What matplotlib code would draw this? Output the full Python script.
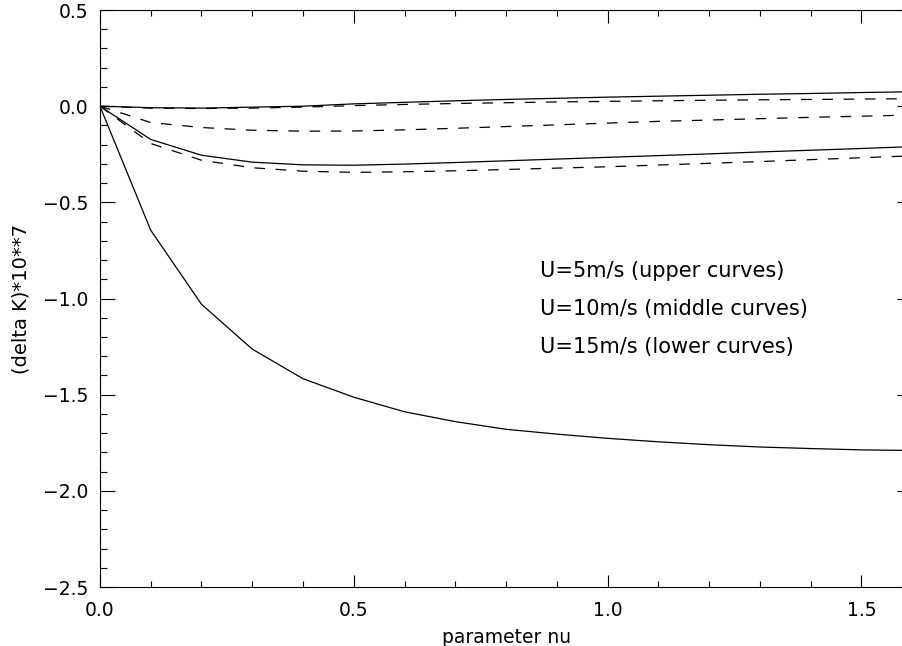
import matplotlib
matplotlib.use("Agg")
import matplotlib.pyplot as plt
from matplotlib.ticker import MultipleLocator

plt.rcParams['font.family'] = 'DejaVu Sans'

# parameter nu
nu = [0.0, 0.1, 0.2, 0.3, 0.4, 0.5, 0.6, 0.7, 0.8, 0.9,
      1.0, 1.1, 1.2, 1.3, 1.4, 1.5, 1.6]

# (delta K)*10**7
upper_solid = [0.0, -0.008, -0.010, -0.005, 0.000, 0.012, 0.020, 0.028, 0.035,
               0.041, 0.047, 0.052, 0.057, 0.062, 0.066, 0.071, 0.075]
upper_dashed = [0.0, -0.010, -0.012, -0.010, -0.005, 0.003, 0.009, 0.014, 0.018,
                0.022, 0.025, 0.028, 0.031, 0.033, 0.035, 0.037, 0.039]
middle_dashed = [0.0, -0.085, -0.111, -0.125, -0.130, -0.129, -0.123, -0.115, -0.106,
                 -0.097, -0.088, -0.079, -0.072, -0.065, -0.058, -0.052, -0.046]
middle_solid = [0.0, -0.173, -0.255, -0.291, -0.305, -0.307, -0.301, -0.293, -0.284,
                -0.275, -0.266, -0.257, -0.248, -0.238, -0.229, -0.220, -0.210]
lower_dashed = [0.0, -0.194, -0.281, -0.320, -0.338, -0.344, -0.341, -0.336, -0.329,
                -0.322, -0.315, -0.306, -0.297, -0.288, -0.278, -0.268, -0.258]
lower_solid = [0.0, -0.645, -1.030, -1.263, -1.417, -1.513, -1.589, -1.640, -1.680,
               -1.705, -1.727, -1.745, -1.760, -1.772, -1.780, -1.787, -1.790]

legend_lines = ['U=5m/s (upper curves)',
                'U=10m/s (middle curves)',
                'U=15m/s (lower curves)']
legend_y = [-0.855, -1.053, -1.253]

fig = plt.figure(figsize=(9.03, 6.46), dpi=100)
# axes runs a little past the right edge of the picture, like the original
ax = fig.add_axes([0.1107, 0.0913, 0.8995, 0.8932])

lw = 0.9
dash = (0, (8.5, 8.5))
ax.plot(nu, upper_solid, color='black', lw=lw)
ax.plot(nu, upper_dashed, color='black', lw=lw, linestyle=dash)
ax.plot(nu, middle_dashed, color='black', lw=lw, linestyle=dash)
ax.plot(nu, middle_solid, color='black', lw=lw)
ax.plot(nu, lower_dashed, color='black', lw=lw, linestyle=dash)
ax.plot(nu, lower_solid, color='black', lw=lw)

ax.set_xlim(0, 1.6)
ax.set_ylim(-2.5, 0.5)
ax.xaxis.set_major_locator(MultipleLocator(0.5))
ax.xaxis.set_minor_locator(MultipleLocator(0.1))
ax.yaxis.set_major_locator(MultipleLocator(0.5))
ax.yaxis.set_minor_locator(MultipleLocator(0.1))
ax.xaxis.set_major_formatter(plt.FuncFormatter(lambda v, p: f'{v:.1f}'))
ax.yaxis.set_major_formatter(plt.FuncFormatter(lambda v, p: f'{v:.1f}'.replace('-', '\u2212')))

ax.tick_params(which='both', direction='in', top=True, right=True,
               width=0.8, labelsize=13.5, colors='black')
ax.tick_params(axis='y', which='major', length=11, pad=8)
ax.tick_params(axis='y', which='minor', length=5)
ax.tick_params(axis='x', which='major', length=9, pad=10)
ax.tick_params(axis='x', which='minor', length=4.5)
for s in ax.spines.values():
    s.set_linewidth(0.8)

ax.set_xlabel('parameter nu', fontsize=13.5, labelpad=6)
ax.set_ylabel('(delta K)*10**7', fontsize=14, labelpad=9)

for txt, yy in zip(legend_lines, legend_y):
    ax.text(0.866, yy, txt, fontsize=15, ha='left', va='center')

fig.savefig('out.png', dpi=100)
